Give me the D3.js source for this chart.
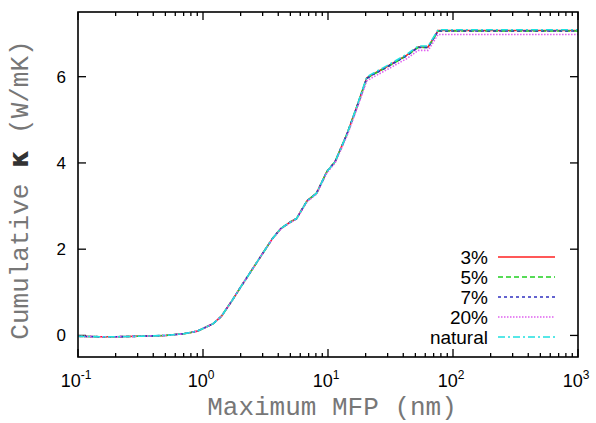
<!DOCTYPE html>
<html>
<head>
<meta charset="utf-8">
<script src="https://cdn.jsdelivr.net/npm/d3@7"></script>
<style>
  body { margin: 0; background: #fff; }
  svg { display: block; }
</style>
</head>
<body>
<svg></svg>
<script>
var screen = {width: 596, height: 423};
var margins = {top: 12, right: 18, bottom: 66, left: 78};

// max MFP (nm)
var mfp = [0.1, 0.15, 0.2, 0.3, 0.4, 0.5, 0.6, 0.7, 0.8, 0.9, 1.0, 1.2, 1.4, 1.7, 2.0, 2.5, 3.0, 3.6, 4.2, 5.0, 5.6, 6.8, 8.1, 9.8, 11.4, 14.1, 17, 20.4, 22.3, 29.5, 42.7, 52.7, 63.3, 76, 100, 1000];

var k3 = [-0.02, -0.03, -0.03, -0.02, -0.01, 0.0, 0.02, 0.04, 0.07, 0.1, 0.16, 0.27, 0.44, 0.8, 1.12, 1.55, 1.9, 2.25, 2.48, 2.63, 2.71, 3.12, 3.3, 3.8, 4.03, 4.65, 5.3, 5.97, 6.04, 6.23, 6.5, 6.69, 6.69, 7.07, 7.07, 7.07];
var k5 = [-0.02, -0.03, -0.03, -0.02, -0.01, 0.0, 0.02, 0.04, 0.07, 0.1, 0.16, 0.27, 0.44, 0.8, 1.12, 1.55, 1.9, 2.25, 2.48, 2.63, 2.71, 3.12, 3.3, 3.8, 4.03, 4.65, 5.3, 5.96, 6.03, 6.22, 6.49, 6.68, 6.68, 7.06, 7.06, 7.06];
var k7 = [-0.02, -0.03, -0.03, -0.02, -0.01, 0.0, 0.02, 0.04, 0.07, 0.1, 0.16, 0.27, 0.44, 0.8, 1.12, 1.55, 1.9, 2.25, 2.48, 2.63, 2.71, 3.12, 3.3, 3.8, 4.03, 4.65, 5.29, 5.96, 6.03, 6.22, 6.49, 6.68, 6.68, 7.06, 7.06, 7.06];
var k20 = [-0.02, -0.03, -0.03, -0.02, -0.01, 0.0, 0.02, 0.04, 0.07, 0.1, 0.16, 0.27, 0.44, 0.8, 1.12, 1.55, 1.9, 2.24, 2.47, 2.62, 2.7, 3.1, 3.28, 3.77, 4.0, 4.61, 5.25, 5.9, 5.97, 6.16, 6.42, 6.61, 6.61, 6.98, 6.98, 6.98];
var kNat = [-0.02, -0.03, -0.03, -0.02, -0.01, 0.0, 0.02, 0.04, 0.07, 0.1, 0.16, 0.27, 0.44, 0.8, 1.12, 1.55, 1.9, 2.25, 2.48, 2.63, 2.71, 3.12, 3.3, 3.8, 4.03, 4.65, 5.31, 5.99, 6.06, 6.25, 6.52, 6.71, 6.71, 7.09, 7.09, 7.09];

var seriesNames = ["3%", "5%", "7%", "20%", "natural"];
var yTicks = [0, 2, 4, 6];
var xExps = [-1, 0, 1, 2, 3];

var setup = function()
{
    var svg = d3.select("svg")
        .attr("width", screen.width)
        .attr("height", screen.height);

    var width = screen.width - margins.left - margins.right;
    var height = screen.height - margins.top - margins.bottom;

    var xScale = d3.scaleLog()
        .domain([0.1, 1000])
        .range([0, width]);

    var yScale = d3.scaleLinear()
        .domain([-0.5, 7.5])
        .range([height, 0]);

    var g = svg.append("g")
        .attr("transform", "translate(" + margins.left + "," + margins.top + ")");

    // ticks (inward, mirrored)
    var minor = [];
    xExps.slice(0, -1).forEach(function(e)
    {
        for (var m = 2; m <= 9; m++) minor.push(m * Math.pow(10, e));
    });
    var major = xExps.map(function(e) { return Math.pow(10, e); });

    var ticks = g.append("g").attr("stroke", "#000").attr("stroke-width", 1.3);
    minor.forEach(function(v)
    {
        ticks.append("line").attr("x1", xScale(v)).attr("x2", xScale(v)).attr("y1", height).attr("y2", height - 4);
        ticks.append("line").attr("x1", xScale(v)).attr("x2", xScale(v)).attr("y1", 0).attr("y2", 4);
    });
    major.forEach(function(v)
    {
        ticks.append("line").attr("x1", xScale(v)).attr("x2", xScale(v)).attr("y1", height).attr("y2", height - 8);
        ticks.append("line").attr("x1", xScale(v)).attr("x2", xScale(v)).attr("y1", 0).attr("y2", 8);
    });
    yTicks.forEach(function(v)
    {
        ticks.append("line").attr("x1", 0).attr("x2", 8).attr("y1", yScale(v)).attr("y2", yScale(v));
        ticks.append("line").attr("x1", width).attr("x2", width - 8).attr("y1", yScale(v)).attr("y2", yScale(v));
    });

    // tick labels
    yTicks.forEach(function(v)
    {
        g.append("text")
            .attr("x", -12).attr("y", yScale(v) + 6)
            .attr("text-anchor", "end")
            .attr("font-family", "Liberation Sans, Arial, sans-serif")
            .attr("font-size", 17)
            .text(v);
    });
    xExps.forEach(function(e)
    {
        var t = g.append("text")
            .attr("x", xScale(Math.pow(10, e)) - 2).attr("y", height + 30)
            .attr("text-anchor", "middle")
            .attr("font-family", "Liberation Sans, Arial, sans-serif")
            .attr("font-size", 18);
        t.append("tspan").text("10");
        t.append("tspan").attr("dy", -8).attr("font-size", 12).text(e);
    });

    // axis titles
    g.append("text")
        .attr("x", width / 2 + 4).attr("y", height + 58)
        .attr("text-anchor", "middle")
        .attr("font-family", "Liberation Mono, Courier New, monospace")
        .attr("font-size", 26)
        .attr("fill", "#777")
        .text("Maximum MFP (nm)");

    var yt = g.append("text")
        .attr("transform", "translate(-50," + (190 - margins.top) + ") rotate(-90)")
        .attr("text-anchor", "middle")
        .attr("font-family", "Liberation Mono, Courier New, monospace")
        .attr("font-size", 26)
        .attr("fill", "#777");
    yt.append("tspan").text("Cumulative ");
    yt.append("tspan").attr("font-weight", "bold").attr("fill", "#333").attr("font-family", "DejaVu Sans, sans-serif").text("\u03ba");
    yt.append("tspan").text(" (W/mK)");

    // curves
    var styles = [
        {color: "#ff2020", dash: null},
        {color: "#20d020", dash: "5,3"},
        {color: "#3030c0", dash: "3,3"},
        {color: "#e060f0", dash: "1.5,1.5"},
        {color: "#20e0e0", dash: "7,3,2,3"}
    ];
    var allSeries = [k3, k5, k7, k20, kNat];

    var line = d3.line()
        .x(function(d) { return xScale(d[0]); })
        .y(function(d) { return yScale(d[1]); });

    allSeries.forEach(function(arr, i)
    {
        var pts = mfp.map(function(x, j) { return [x, arr[j]]; });
        g.append("path")
            .datum(pts)
            .attr("fill", "none")
            .attr("stroke", styles[i].color)
            .attr("stroke-width", 1.6)
            .attr("stroke-dasharray", styles[i].dash)
            .attr("d", line);
    });

    // legend
    seriesNames.forEach(function(name, i)
    {
        var yy = 245 + i * 20;
        g.append("text")
            .attr("x", 410).attr("y", yy + 7)
            .attr("text-anchor", "end")
            .attr("font-family", "Liberation Sans, Arial, sans-serif")
            .attr("font-size", 19)
            .text(name);
        g.append("line")
            .attr("x1", 420).attr("x2", 477)
            .attr("y1", yy).attr("y2", yy)
            .attr("stroke", styles[i].color)
            .attr("stroke-width", 1.6)
            .attr("stroke-dasharray", styles[i].dash);
    });

    // frame
    g.append("rect")
        .attr("width", width).attr("height", height)
        .attr("fill", "none")
        .attr("stroke", "#000")
        .attr("stroke-width", 1.6);
}

setup();
</script>
</body>
</html>
